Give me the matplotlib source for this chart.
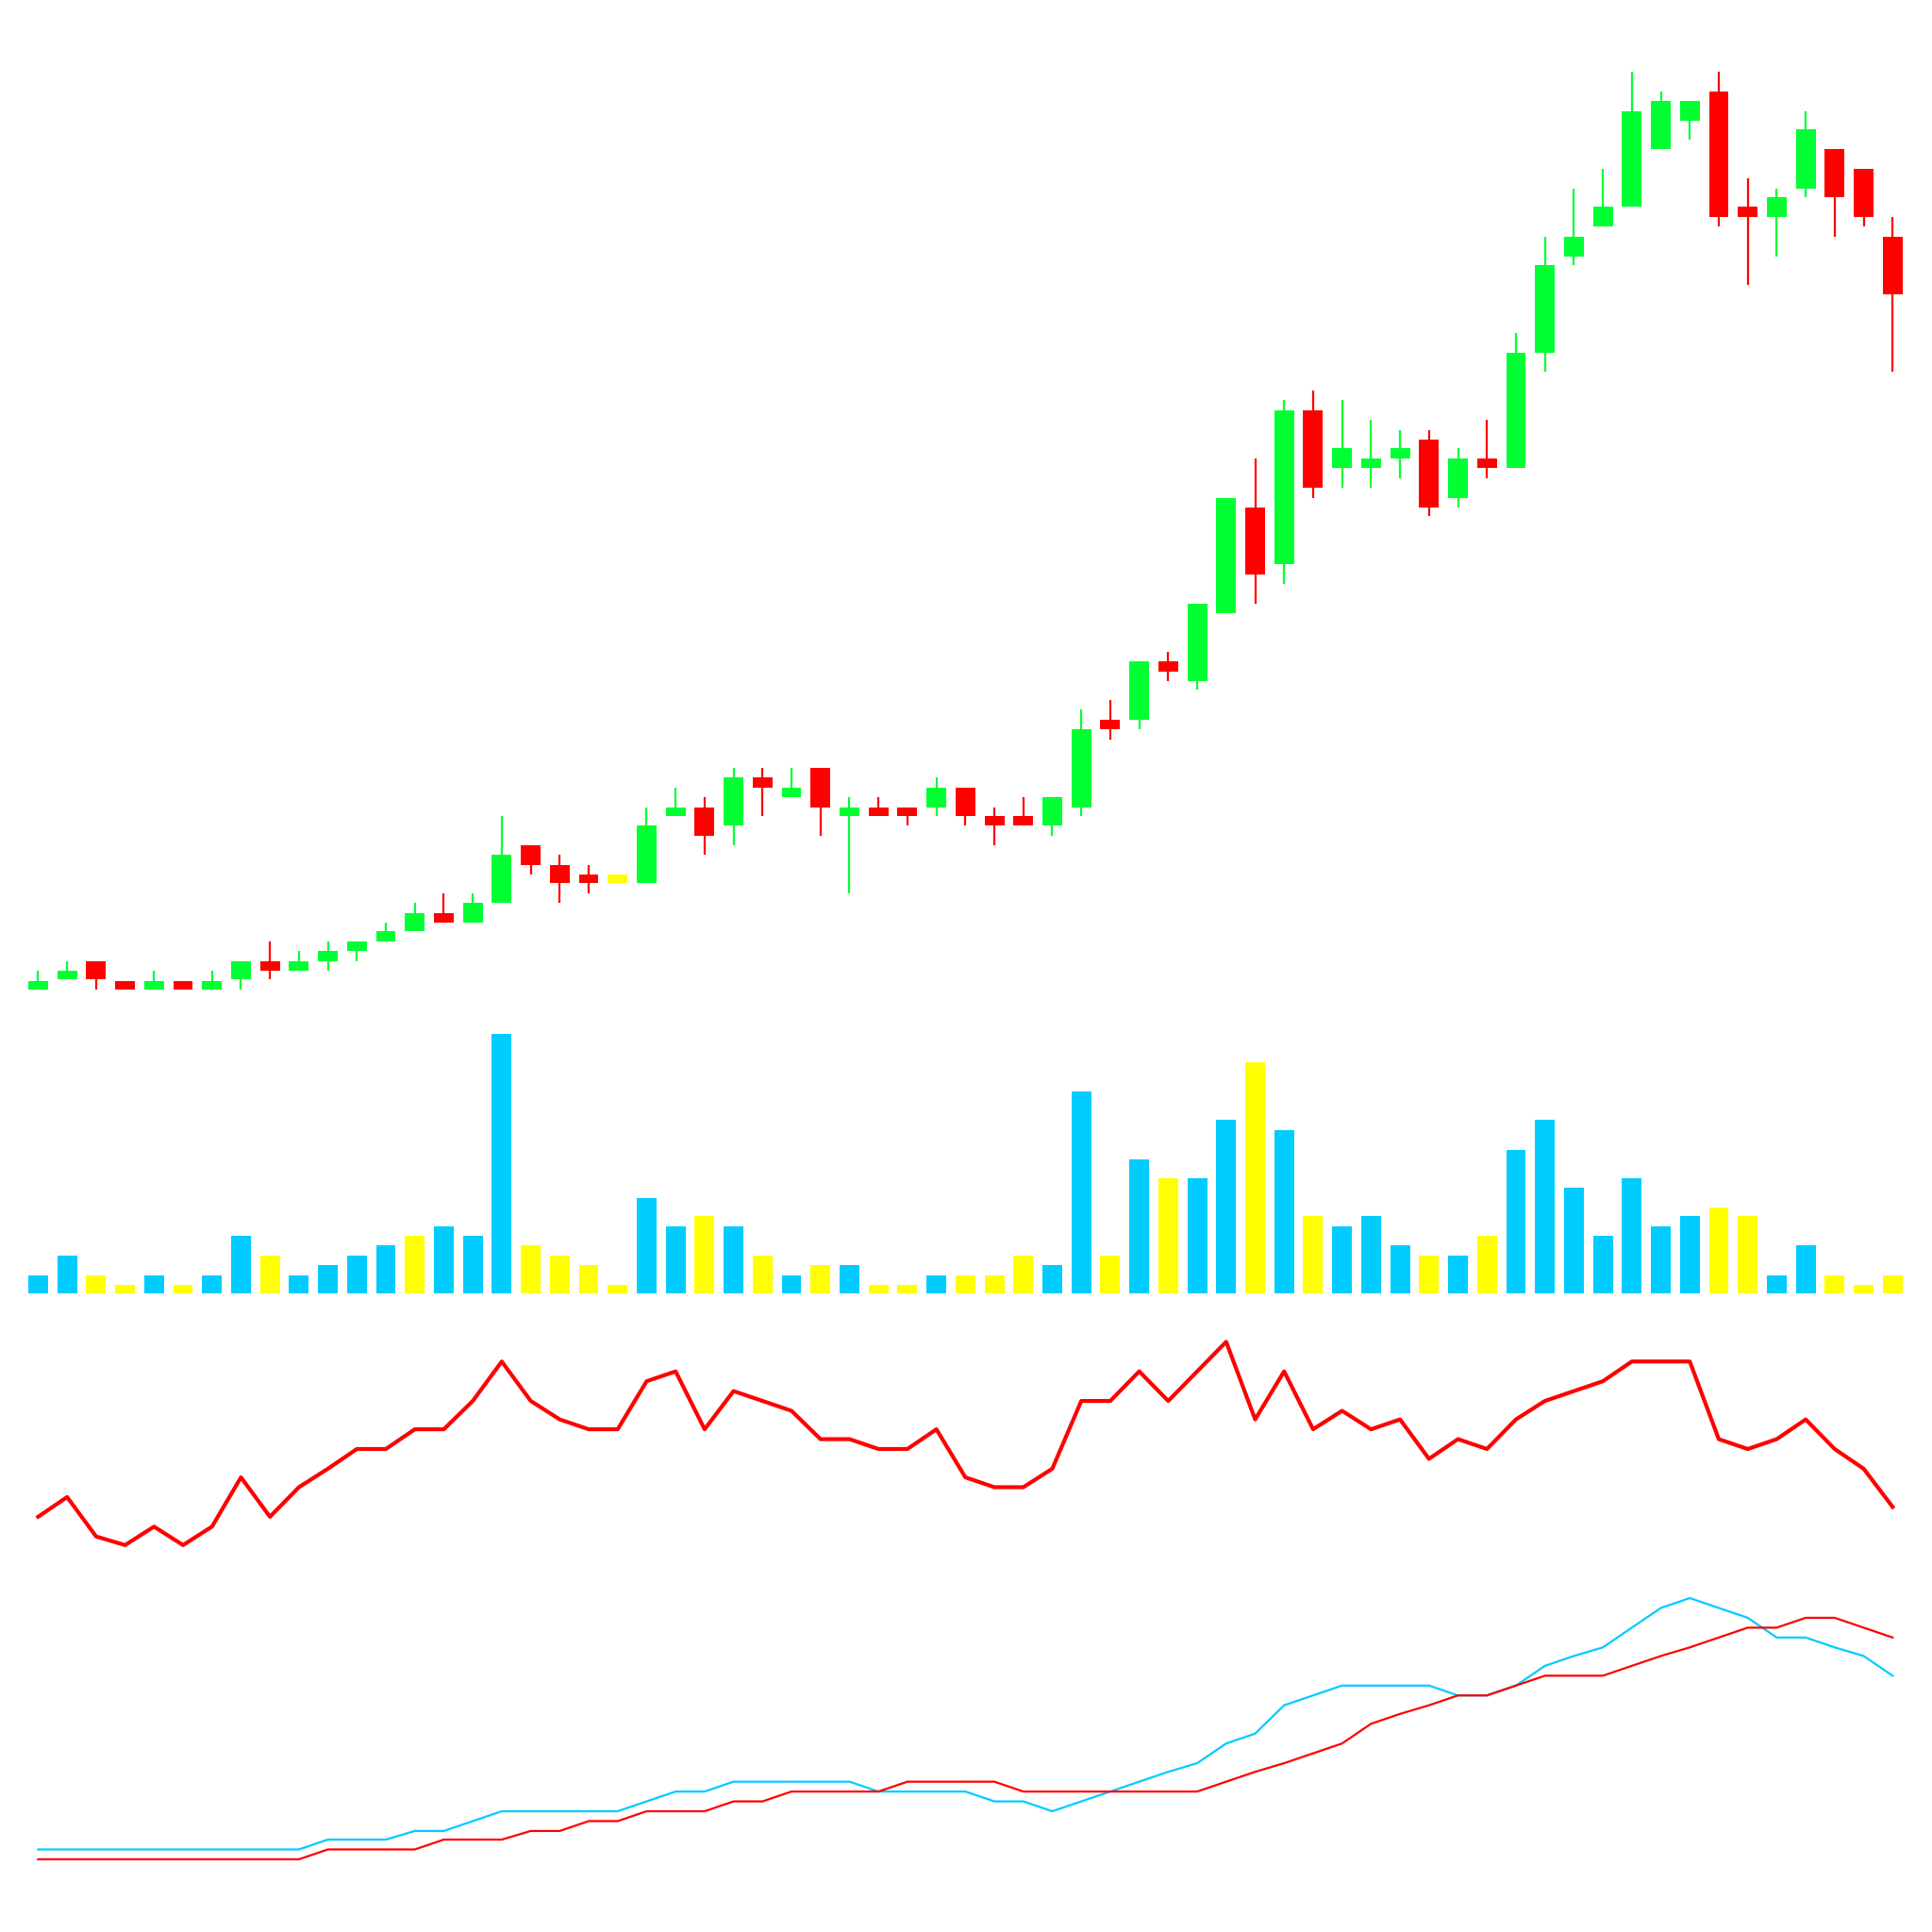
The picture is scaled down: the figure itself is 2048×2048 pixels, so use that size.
import numpy as np
import matplotlib
matplotlib.use("Agg")
import matplotlib.pyplot as plt

# readings from the picture (screen rows, smaller = higher price); converted below
# candle: (open_row, close_row, high_row, low_row, colour)
G, R, Y = "#00ff33", "#ff0000", "#ffff00"
candles = [
    (803, 796, 788, 803, G), (795, 788, 780, 795, G), (780, 795, 780, 803, R), (796, 803, 796, 803, R),
    (803, 796, 788, 803, G), (796, 803, 796, 803, R), (803, 796, 788, 803, G), (795, 780, 780, 803, G),
    (780, 788, 764, 795, R), (788, 780, 772, 788, G), (780, 772, 764, 788, G), (772, 764, 764, 780, G),
    (764, 756, 749, 764, G), (756, 741, 733, 756, G), (741, 749, 725, 749, R), (749, 733, 725, 749, G),
    (733, 694, 662, 733, G), (686, 702, 686, 710, R), (702, 717, 694, 733, R), (710, 717, 702, 725, R),
    (710, 717, 710, 717, Y), (717, 670, 655, 717, G), (662, 655, 639, 662, G), (655, 678, 647, 694, R),
    (670, 631, 623, 686, G), (631, 639, 623, 662, R), (647, 639, 623, 647, G), (623, 655, 623, 678, R),
    (662, 655, 647, 725, G), (655, 662, 647, 662, R), (655, 662, 655, 670, R), (655, 639, 631, 662, G),
    (639, 662, 639, 670, R), (662, 670, 655, 686, R), (662, 670, 647, 670, R), (670, 647, 647, 678, G),
    (655, 592, 576, 662, G), (584, 592, 568, 600, R), (584, 537, 537, 592, G), (537, 545, 529, 553, R),
    (553, 490, 490, 560, G), (498, 404, 404, 498, G), (412, 466, 372, 490, R), (458, 333, 325, 474, G),
    (333, 396, 317, 404, R), (380, 364, 325, 396, G), (380, 372, 341, 396, G), (372, 364, 349, 388, G),
    (357, 412, 349, 419, R), (404, 372, 364, 412, G), (372, 380, 341, 388, R), (380, 286, 270, 380, G),
    (286, 215, 192, 302, G), (208, 192, 153, 215, G), (184, 168, 137, 184, G), (168, 90, 58, 168, G),
    (121, 82, 74, 121, G), (98, 82, 82, 113, G), (74, 176, 58, 184, R), (168, 176, 145, 231, R),
    (176, 160, 153, 208, G), (153, 105, 90, 160, G), (121, 160, 121, 192, R), (137, 176, 137, 184, R),
    (192, 239, 176, 302, R),
]

C, Yv = "#00ccff", "#ffff00"
volume_rows = [1035, 1019, 1035, 1043, 1035, 1043, 1035, 1003, 1019, 1035, 1027, 1019, 1011, 1003, 995, 1003,
               839, 1011, 1019, 1027, 1043, 972, 995, 987, 995, 1019, 1035, 1027, 1027, 1043, 1043, 1035,
               1035, 1035, 1019, 1027, 886, 1019, 941, 956, 956, 909, 862, 917, 987, 995, 987, 1011,
               1019, 1019, 1003, 933, 909, 964, 1003, 956, 995, 987, 980, 987, 1035, 1011, 1035, 1043, 1035]
volume_colors = "ccyycyccyccccycc" "cyyyyccycycycyyc" "yyyccycyccycyccc" "ycycccccccyyccyyy"
volume_colors = [C if k == "c" else Yv for k in volume_colors]

osc_rows = [1231, 1215, 1247, 1254, 1239, 1254, 1239, 1199, 1231, 1207, 1192, 1176, 1176, 1160, 1160, 1137,
            1105, 1137, 1152, 1160, 1160, 1121, 1113, 1160, 1129, 1137, 1145, 1168, 1168, 1176, 1176, 1160,
            1199, 1207, 1207, 1192, 1137, 1137, 1113, 1137, 1113, 1089, 1152, 1113, 1160, 1145, 1160, 1152,
            1184, 1168, 1176, 1152, 1137, 1129, 1121, 1105, 1105, 1105, 1168, 1176, 1168, 1152, 1176, 1192, 1223]

cyan_rows = [1501] * 10 + [1493, 1493, 1493, 1486, 1486, 1478, 1470, 1470, 1470, 1470, 1470, 1462, 1454, 1454,
             1446, 1446, 1446, 1446, 1446, 1454, 1454, 1454, 1454, 1462, 1462, 1470, 1462, 1454, 1446, 1438,
             1431, 1415, 1407, 1384, 1376, 1368, 1368, 1368, 1368, 1376, 1376, 1368, 1352, 1344, 1337, 1321,
             1305, 1297, 1305, 1313, 1329, 1329, 1337, 1344, 1360]
red_rows = [1509] * 10 + [1501, 1501, 1501, 1501, 1493, 1493, 1493, 1486, 1486, 1478, 1478, 1470, 1470, 1470,
            1462, 1462, 1454, 1454, 1454, 1454, 1446, 1446, 1446, 1446, 1454, 1454, 1454, 1454, 1454, 1454,
            1454, 1446, 1438, 1431, 1423, 1415, 1399, 1391, 1384, 1376, 1376, 1368, 1360, 1360, 1360, 1352,
            1344, 1337, 1329, 1321, 1321, 1313, 1313, 1321, 1329]

n = len(candles)
x = np.arange(n)
S = 1568.0  # reading scale of the picture
L, RR = 19.2, 1547.8


def panel(top, bottom):
    return fig.add_axes([L / S, 1 - bottom / S, (RR - L) / S, (bottom - top) / S])


fig = plt.figure(figsize=(20.48, 20.48), dpi=100)

# candles
ax = panel(50, 812)
for i, (o, c, h, l, col) in enumerate(candles):
    o, c, h, l = -o, -c, -h, -l
    ax.vlines(i, l, h, color=col, lw=1.6)
    lo, hi = min(o, c), max(o, c)
    ax.bar(i, max(hi - lo, 6), bottom=lo if hi - lo >= 6 else lo - 3, width=0.68, color=col)
ax.set_ylim(-812, -50)

# volume
ax2 = panel(830, 1050)
vol = 1050 - np.array(volume_rows)
ax2.bar(x, vol, width=0.68, color=volume_colors)
ax2.set_ylim(0, 220)

# oscillator
ax3 = panel(1080, 1260)
ax3.plot(x, -np.array(osc_rows), color=R, lw=3)
ax3.set_ylim(-1260, -1080)

# two lines
ax4 = panel(1290, 1515)
ax4.plot(x, -np.array(cyan_rows), color=C, lw=1.6)
ax4.plot(x, -np.array(red_rows), color=R, lw=1.6)
ax4.set_ylim(-1515, -1290)

for a in (ax, ax2, ax3, ax4):
    a.set_xlim(-0.5, n - 0.5)
    a.axis("off")

fig.savefig("out.png", dpi=100, facecolor="white")
